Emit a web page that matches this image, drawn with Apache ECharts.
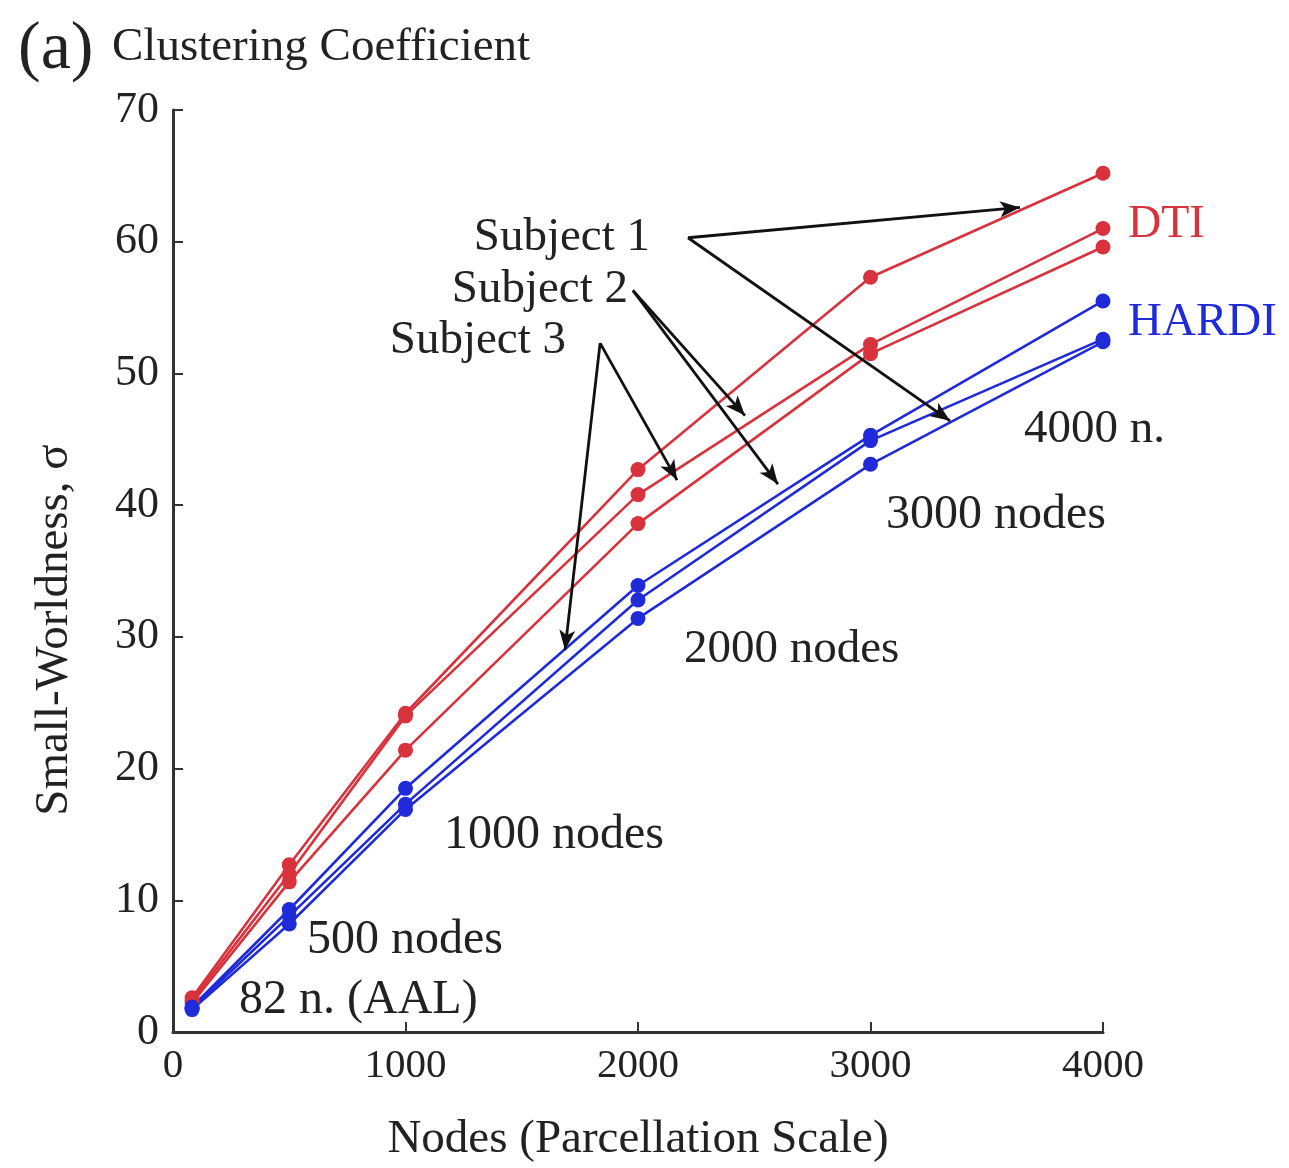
<!DOCTYPE html>
<html>
<head>
<meta charset="utf-8">
<script src="https://cdn.jsdelivr.net/npm/echarts@6/dist/echarts.min.js"></script>
<style>html,body{margin:0;padding:0;background:#fff}#c{width:1289px;height:1168px}</style>
</head>
<body>
<div id="c"></div>
<script>
const nodes = [82, 500, 1000, 2000, 3000, 4000];
const xTicks = [0, 1000, 2000, 3000, 4000];
const yTicks = [0, 10, 20, 30, 40, 50, 60, 70];
const dtiSubject1 = [2.6, 12.7, 24.2, 42.7, 57.3, 65.2];
const dtiSubject2 = [2.4, 12.0, 24.0, 40.8, 52.2, 61.0];
const dtiSubject3 = [2.2, 11.4, 21.4, 38.6, 51.5, 59.6];
const hardiSubject1 = [1.9, 9.3, 18.5, 33.9, 45.3, 55.5];
const hardiSubject2 = [1.8, 8.8, 17.3, 32.8, 44.9, 52.6];
const hardiSubject3 = [1.7, 8.2, 16.9, 31.4, 43.1, 52.4];
// annotation arrows (data coordinates): [from, to]
const arrows = [
  [[2215, 60.3], [3643, 62.6]],
  [[2215, 60.3], [3342, 46.4]],
  [[1978, 56.3], [2460, 46.8]],
  [[1978, 56.3], [2602, 41.6]],
  [[1837, 52.3], [2168, 41.9]],
  [[1837, 52.3], [1686, 29.0]]
];

const RED = '#d8323c', BLUE = '#1f2bd8';
const FONT = "'Liberation Serif','DejaVu Serif',serif";
function pair(arr) { return nodes.map((x, i) => [x, arr[i]]); }
function mkSeries(name, arr, color) {
  return {
    name, type: 'line', data: pair(arr), symbol: 'circle', symbolSize: 15,
    itemStyle: { color }, lineStyle: { color, width: 2.6 }, z: 3, animation: false
  };
}
const series = [
  mkSeries('DTI S1', dtiSubject1, RED),
  mkSeries('DTI S2', dtiSubject2, RED),
  mkSeries('DTI S3', dtiSubject3, RED),
  mkSeries('HARDI S1', hardiSubject1, BLUE),
  mkSeries('HARDI S2', hardiSubject2, BLUE),
  mkSeries('HARDI S3', hardiSubject3, BLUE),
  {
    type: 'line', data: [], animation: false, z: 5,
    markLine: {
      silent: true, animation: false,
      symbol: ['none', 'arrow'], symbolSize: [12, 20],
      label: { show: false },
      lineStyle: { color: '#111', width: 2.8, type: 'solid' },
      data: arrows.map(a => [{ coord: a[0] }, { coord: a[1] }])
    }
  }
];

function txt(text, x, y, size, fill, align) {
  return {
    type: 'text', x, y, z: 10,
    style: { text, font: size + 'px ' + FONT, fill: fill || '#222',
      align: align || 'left', verticalAlign: 'middle' }
  };
}

const chart = echarts.init(document.getElementById('c'), null, { renderer: 'canvas' });
chart.setOption({
  animation: false,
  backgroundColor: '#fff',
  grid: { left: 173, right: 186, top: 110, bottom: 130, containLabel: false },
  xAxis: {
    type: 'value', min: 0, max: 4000, interval: 1000,
    axisLine: { show: true, lineStyle: { color: '#333', width: 3 } },
    axisTick: { show: true, inside: true, length: 10, lineStyle: { color: '#333', width: 2 } },
    splitLine: { show: false },
    axisLabel: { color: '#222', fontFamily: FONT, fontSize: 41, margin: 14,
      formatter: v => xTicks.includes(v) ? String(v) : '' },
    name: 'Nodes (Parcellation Scale)', nameLocation: 'middle', nameGap: 84,
    nameTextStyle: { color: '#222', fontFamily: FONT, fontSize: 47 }
  },
  yAxis: {
    type: 'value', min: 0, max: 70, interval: 10,
    axisLine: { show: true, lineStyle: { color: '#333', width: 3 } },
    axisTick: { show: true, inside: true, length: 10, lineStyle: { color: '#333', width: 2 } },
    splitLine: { show: false },
    axisLabel: { color: '#222', fontFamily: FONT, fontSize: 44, margin: 14,
      formatter: v => yTicks.includes(v) ? String(v) : '' }
  },
  series,
  graphic: [
    txt('(a)', 18, 50, 68),
    txt('Clustering Coefficient', 112, 48, 47),
    {
      type: 'text', x: 55, y: 630, rotation: Math.PI / 2, z: 10,
      style: { text: 'Small-Worldness, σ', font: '47px ' + FONT, fill: '#222',
        align: 'center', verticalAlign: 'middle' }
    },
    txt('Subject 1', 650, 238, 47, '#222', 'right'),
    txt('Subject 2', 628, 290, 47, '#222', 'right'),
    txt('Subject 3', 566, 341, 47, '#222', 'right'),
    txt('DTI', 1128, 225, 46, RED),
    txt('HARDI', 1128, 323, 47, BLUE),
    txt('4000 n.', 1024, 430, 47),
    txt('3000 nodes', 886, 515, 48),
    txt('2000 nodes', 684, 650, 47),
    txt('1000 nodes', 444, 835, 48),
    txt('500 nodes', 307, 940, 48),
    txt('82 n. (AAL)', 239, 1000, 48)
  ]
});
</script>
</body>
</html>
